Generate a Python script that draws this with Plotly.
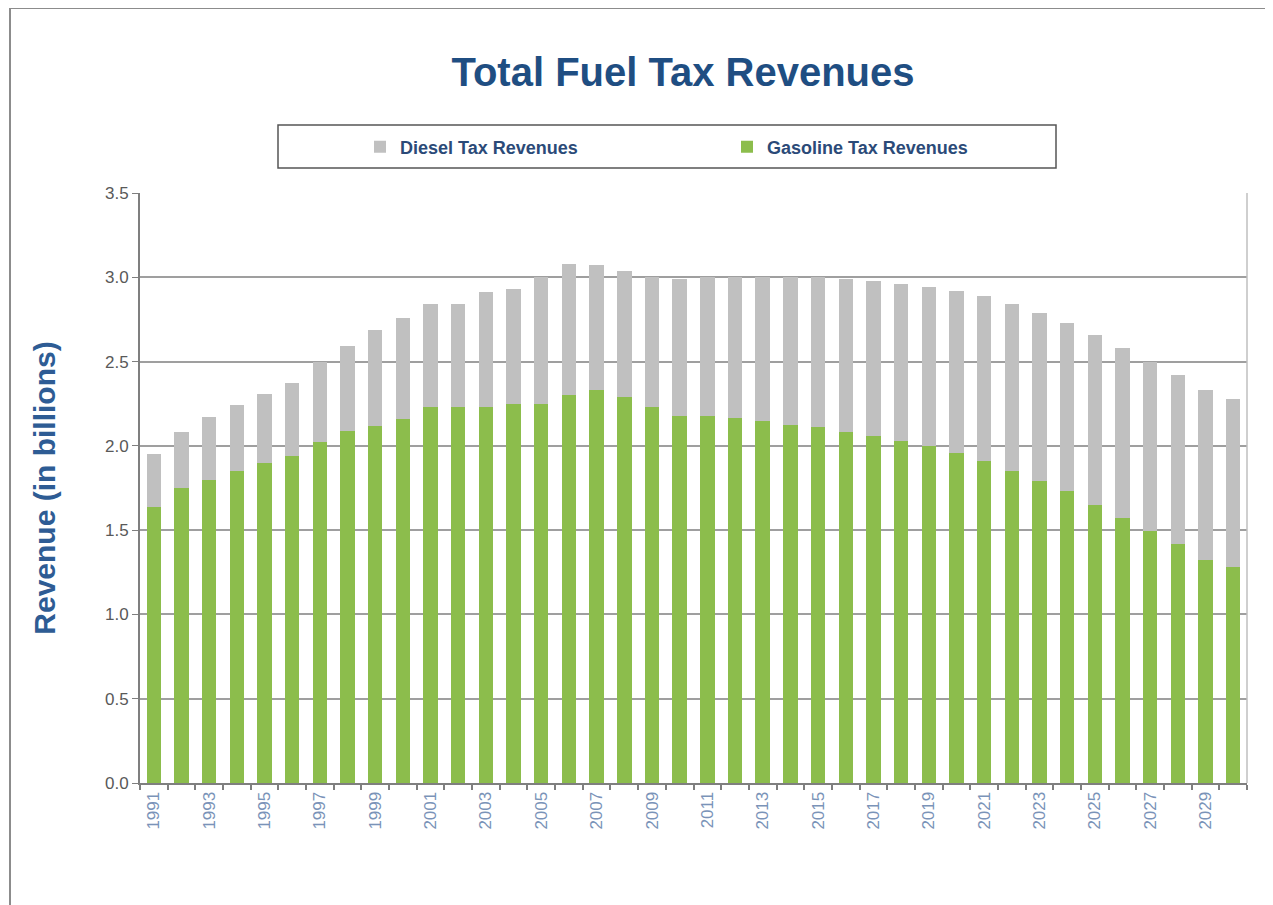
import plotly.graph_objects as go

years = list(range(1991, 2031))
total = [1.95, 2.08, 2.17, 2.24, 2.31, 2.37, 2.50, 2.59, 2.69, 2.76,
         2.84, 2.84, 2.91, 2.93, 3.00, 3.08, 3.07, 3.04, 3.00, 2.99,
         3.00, 3.00, 3.00, 3.00, 3.00, 2.99, 2.98, 2.96, 2.94, 2.92,
         2.89, 2.84, 2.79, 2.73, 2.66, 2.58, 2.50, 2.42, 2.33, 2.28]
gasoline = [1.64, 1.75, 1.80, 1.85, 1.90, 1.94, 2.02, 2.09, 2.12, 2.16,
            2.23, 2.23, 2.23, 2.25, 2.25, 2.30, 2.33, 2.29, 2.23, 2.18,
            2.175, 2.165, 2.145, 2.125, 2.11, 2.085, 2.06, 2.03, 2.00, 1.96,
            1.91, 1.85, 1.79, 1.73, 1.65, 1.57, 1.495, 1.415, 1.325, 1.28]
diesel = [round(t - g, 3) for t, g in zip(total, gasoline)]
tick_years = list(range(1991, 2030, 2))
y_ticks = [0.0, 0.5, 1.0, 1.5, 2.0, 2.5, 3.0, 3.5]

FONT = "Liberation Sans, Arial, sans-serif"
GREEN = "#8cbd4c"
GREY = "#c0c0c0"
NAVY = "#1f4e82"

fig = go.Figure()
fig.add_trace(go.Bar(x=years, y=gasoline, name="<b>Gasoline Tax Revenues</b>",
                     marker=dict(color=GREEN, line=dict(width=0))))
fig.add_trace(go.Bar(x=years, y=diesel, name="<b>Diesel Tax Revenues</b>",
                     marker=dict(color=GREY, line=dict(width=0))))

OFF = 8  # page body margin
W, H = 1273 - OFF, 905 - OFF
L, R, T, B = 140 - OFF, 26, 193 - OFF, 122
pw, ph = W - L - R, H - T - B


def px_x(v):
    # target screenshot x pixel -> paper coordinate
    return (v - OFF - L) / pw


def px_y(v):
    # target screenshot y pixel -> paper coordinate
    return (OFF + T + ph - v) / ph


fig.update_layout(
    width=W, height=H,
    barmode="stack", bargap=0.48,
    plot_bgcolor="white", paper_bgcolor="white",
    margin=dict(l=L, r=R, t=T, b=B, autoexpand=False),
    font=dict(family=FONT),
    title=dict(text="<b>Total Fuel Tax Revenues</b>",
               font=dict(size=40, color=NAVY, family=FONT),
               x=px_x(683), xref="paper", xanchor="center",
               y=1 - (72 - OFF) / H, yref="container", yanchor="middle"),
    showlegend=True,
    legend=dict(orientation="h", traceorder="reversed",
                x=px_x(360), xanchor="left", y=px_y(147), yanchor="middle",
                entrywidth=322, entrywidthmode="pixels",
                font=dict(size=18, color="#2b4a78", family=FONT),
                bgcolor="rgba(0,0,0,0)"),
    xaxis=dict(range=[1990.5, 2030.5], tickmode="array", tickvals=tick_years,
               ticktext=[str(y) for y in tick_years], tickangle=-90,
               ticks="", ticklen=0, showgrid=False,
               tickfont=dict(size=17, color="#7a93b8", family=FONT),
               showline=True, linecolor="#7f7f7f", linewidth=2,
               minor=dict(ticks="outside", ticklen=5, tickwidth=1.5,
                          tickcolor="#7f7f7f", tick0=1990.5, dtick=1,
                          showgrid=False)),
    yaxis=dict(range=[0, 3.5], tickvals=y_ticks,
               ticktext=[f"{v:.1f}" for v in y_ticks],
               showgrid=True, gridcolor="#9f9f9f", gridwidth=1.5,
               ticks="outside", ticklen=6, tickcolor="#7f7f7f",
               tickfont=dict(size=17, color="#595959", family=FONT),
               showline=True, linecolor="#7f7f7f", linewidth=2,
               zeroline=False,
               title=dict(text="<b>Revenue (in billions)</b>",
                          font=dict(size=30, color="#2e5c94", family=FONT),
                          standoff=40)),
    shapes=[
        # legend box
        dict(type="rect", xref="paper", yref="paper",
             x0=px_x(278), x1=px_x(1056), y0=px_y(168), y1=px_y(125),
             line=dict(color="#555555", width=1.5), fillcolor="rgba(0,0,0,0)"),
        # right plot border
        dict(type="line", xref="paper", yref="paper", x0=1, x1=1, y0=0, y1=1,
             line=dict(color="#bfbfbf", width=1.5)),
        # outer frame (top and left)
        dict(type="line", xref="paper", yref="paper",
             x0=px_x(10), x1=px_x(1273), y0=px_y(8), y1=px_y(8),
             line=dict(color="#8c8c8c", width=2)),
        dict(type="line", xref="paper", yref="paper",
             x0=px_x(10), x1=px_x(10), y0=px_y(905), y1=px_y(8),
             line=dict(color="#8c8c8c", width=2)),
    ],
)

fig.write_html("out.html")
